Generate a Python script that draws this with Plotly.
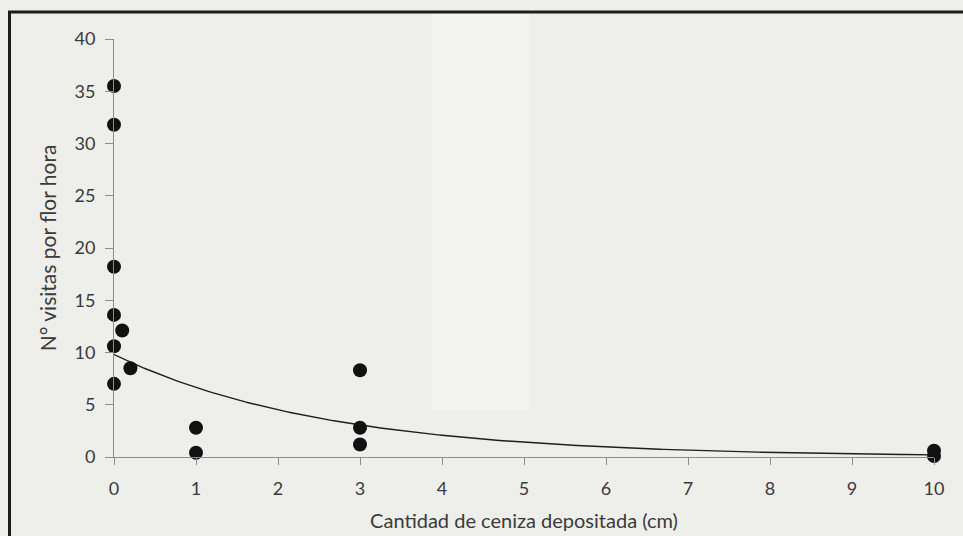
import numpy as np
import plotly.graph_objects as go

# Ash deposited (cm) and flower visits per flower-hour
ceniza_cm = [0, 0, 0, 0, 0, 0, 0.1, 0.2, 1, 1, 3, 3, 3, 10, 10]
visitas = [35.5, 31.8, 18.2, 13.6, 10.6, 7.0, 12.1, 8.5, 2.8, 0.4, 8.3, 2.8, 1.2, 0.6, 0.1]

x_ticks = list(range(0, 11))
y_ticks = [0, 5, 10, 15, 20, 25, 30, 35, 40]

# Exponential trendline: least squares on log(y)
slope, intercept = np.polyfit(np.array(ceniza_cm), np.log(np.array(visitas)), 1)
x_fit = np.linspace(0, 10, 201)
y_fit = np.exp(intercept) * np.exp(slope * x_fit)

W, H = 963, 536
ML, MR, MT, MB = 114, 29, 39, 79
PW, PH = W - ML - MR, H - MT - MB


def px_x(p):
    return (p - ML) / PW


def px_y(p):
    return (H - MB - p) / PH


FONT = "Lato"
TXT = "#3a3a3a"
AX = "#8c8c8c"

fig = go.Figure()
fig.add_trace(go.Scatter(
    x=x_fit, y=y_fit, mode="lines",
    line=dict(color="#1e1e1e", width=1.4),
    hoverinfo="skip", showlegend=False,
))
fig.add_trace(go.Scatter(
    x=ceniza_cm, y=visitas, mode="markers",
    marker=dict(color="#111111", size=14, line=dict(width=0)),
    cliponaxis=False, showlegend=False,
))

shapes = [
    # slightly lighter vertical band of the paper
    dict(type="rect", xref="paper", yref="paper",
         x0=px_x(432), x1=px_x(530), y0=px_y(410), y1=px_y(13),
         fillcolor="#f3f3f1", line=dict(width=0), layer="below"),
    # frame: left and top edges
    dict(type="line", xref="paper", yref="paper",
         x0=px_x(9.5), x1=px_x(9.5), y0=px_y(11), y1=px_y(540),
         line=dict(color="#1c1c1c", width=3)),
    dict(type="line", xref="paper", yref="paper",
         x0=px_x(8), x1=px_x(970), y0=px_y(12), y1=px_y(12),
         line=dict(color="#1c1c1c", width=3)),
]

fig.update_layout(
    width=W, height=H,
    margin=dict(l=ML, r=MR, t=MT, b=MB),
    paper_bgcolor="#eeeeeb",
    plot_bgcolor="rgba(0,0,0,0)",
    font=dict(family=FONT, color=TXT, size=18),
    shapes=shapes,
    xaxis=dict(
        range=[0, 10], tickvals=x_ticks, ticktext=[str(v) for v in x_ticks],
        automargin=False,
        showgrid=False, zeroline=False,
        showline=True, linecolor=AX, linewidth=1,
        ticks="outside", ticklen=7, tickcolor=AX, tickwidth=1,
        ticklabelstandoff=8,
        tickfont=dict(family=FONT, size=18, color=TXT),
        title=dict(text="Cantidad de ceniza depositada (cm)",
                   font=dict(family=FONT, size=20, color=TXT), standoff=16),
    ),
    yaxis=dict(
        range=[0, 40], tickvals=y_ticks, ticktext=[str(v) for v in y_ticks],
        automargin=False,
        showgrid=False, zeroline=False,
        showline=True, linecolor=AX, linewidth=1,
        ticks="outside", ticklen=8, tickcolor=AX, tickwidth=1,
        ticklabelstandoff=6,
        tickfont=dict(family=FONT, size=18, color=TXT),
        title=dict(text="N° visitas por flor hora",
                   font=dict(family=FONT, size=21, color=TXT), standoff=12),
    ),
)

fig.write_html("out.html")
